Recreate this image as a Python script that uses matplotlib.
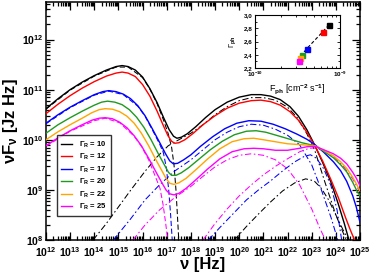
import numpy as np
import matplotlib
matplotlib.use("Agg")
import matplotlib.pyplot as plt
from matplotlib.ticker import LogLocator, NullFormatter, MultipleLocator, FixedLocator
from matplotlib.lines import Line2D

plt.rcParams['font.family'] = ['Liberation Sans', 'DejaVu Sans']
plt.rcParams['font.weight'] = 'bold'
plt.rcParams['mathtext.fontset'] = 'custom'
plt.rcParams['mathtext.rm'] = 'Liberation Sans:bold'
plt.rcParams['mathtext.it'] = 'Liberation Sans:bold:italic'
plt.rcParams['mathtext.bf'] = 'Liberation Sans:bold'
plt.rcParams['mathtext.default'] = 'rm'

# ---------------- data (log10 nu [Hz], log10 nuF_nu) ----------------
gammas = [10, 12, 17, 20, 22, 25]
colors = ['black', '#ff0000', '#0000ff', '#1f9a1f', '#ffa500', '#ff00ff']

x_g10 = [12.0, 12.5, 13.0, 13.5, 14.0, 14.5, 14.9, 15.15, 15.4, 15.7, 16.0, 16.3, 16.6, 16.86, 17.1, 17.28, 17.42,
         17.6, 17.85, 18.2, 18.6, 19.0, 19.5, 20.0, 20.5, 20.9, 21.3, 21.7, 22.1, 22.45, 22.8, 23.14, 23.45,
         23.8, 24.1, 24.35, 24.56]
y_g10 = [10.62, 10.82, 11.0, 11.15, 11.28, 11.39, 11.46, 11.48, 11.46, 11.39, 11.25, 11.02, 10.74, 10.45, 10.2, 10.07, 10.03,
         10.05, 10.12, 10.26, 10.44, 10.6, 10.75, 10.85, 10.9, 10.9, 10.87, 10.8, 10.66, 10.47, 10.2, 9.88, 9.55,
         9.15, 8.72, 8.33, 7.97]

x_g12 = [12.0, 12.5, 13.0, 13.5, 14.0, 14.5, 14.9, 15.15, 15.4, 15.7, 16.0, 16.3, 16.6, 16.86, 17.05, 17.2, 17.33,
         17.5, 17.75, 18.1, 18.5, 19.0, 19.5, 20.0, 20.5, 20.9, 21.3, 21.7, 22.1, 22.45, 22.8, 23.14, 23.45,
         23.8, 24.1, 24.4, 24.6, 24.8]
y_g12 = [10.52, 10.71, 10.88, 11.03, 11.16, 11.27, 11.33, 11.35, 11.33, 11.26, 11.1, 10.87, 10.57, 10.28, 10.08, 9.97, 9.93,
         9.94, 10.0, 10.13, 10.3, 10.48, 10.63, 10.73, 10.78, 10.79, 10.76, 10.69, 10.56, 10.39, 10.15, 9.87, 9.58,
         9.2, 8.85, 8.45, 8.2, 7.97]

x_g17 = [12.0, 12.5, 13.0, 13.5, 14.0, 14.35, 14.6, 14.9, 15.2, 15.5, 15.8, 16.1, 16.4, 16.7, 16.95, 17.12, 17.27,
         17.45, 17.7, 18.0, 18.4, 18.9, 19.4, 19.9, 20.4, 20.9, 21.4, 21.9, 22.4, 22.8, 23.14, 23.5, 23.9,
         24.2, 24.45, 24.7, 24.85, 25.0]
y_g17 = [10.33, 10.5, 10.65, 10.78, 10.9, 10.96, 10.98, 10.96, 10.91, 10.82, 10.68, 10.48, 10.22, 9.95, 9.72, 9.58, 9.52,
         9.53, 9.6, 9.7, 9.87, 10.06, 10.22, 10.33, 10.38, 10.37, 10.31, 10.22, 10.11, 10.01, 9.9, 9.75, 9.56,
         9.38, 9.17, 8.88, 8.65, 8.35]

x_g20 = [12.0, 12.5, 13.0, 13.5, 14.0, 14.3, 14.55, 14.85, 15.15, 15.45, 15.75, 16.05, 16.35, 16.65, 16.9, 17.07, 17.2,
         17.38, 17.6, 17.9, 18.3, 18.8, 19.3, 19.8, 20.3, 20.7, 21.1, 21.6, 22.1, 22.6, 23.14, 23.5, 23.9,
         24.2, 24.45, 24.7, 24.85, 25.0]
y_g20 = [10.13, 10.3, 10.44, 10.57, 10.69, 10.75, 10.77, 10.75, 10.7, 10.6, 10.45, 10.25, 10.0, 9.72, 9.5, 9.35, 9.29,
         9.29, 9.34, 9.44, 9.6, 9.8, 9.97, 10.1, 10.17, 10.18, 10.15, 10.08, 10.01, 9.94, 9.88, 9.77, 9.64,
         9.5, 9.36, 9.15, 9.0, 8.88]

x_g22 = [12.0, 12.5, 13.0, 13.5, 13.9, 14.2, 14.45, 14.75, 15.05, 15.35, 15.65, 15.95, 16.25, 16.55, 16.8, 16.98, 17.13,
         17.3, 17.5, 17.8, 18.2, 18.7, 19.2, 19.7, 20.2, 20.6, 21.0, 21.5, 22.0, 22.6, 23.14, 23.5, 23.9,
         24.2, 24.45, 24.7, 24.85, 25.0]
y_g22 = [10.0, 10.16, 10.3, 10.43, 10.54, 10.6, 10.62, 10.61, 10.56, 10.47, 10.33, 10.13, 9.88, 9.6, 9.38, 9.22, 9.13,
         9.11, 9.14, 9.23, 9.4, 9.62, 9.82, 9.96, 10.02, 10.03, 10.0, 9.96, 9.92, 9.9, 9.88, 9.79, 9.68,
         9.56, 9.43, 9.25, 9.12, 8.98]

x_g25 = [12.0, 12.5, 13.0, 13.5, 13.9, 14.2, 14.45, 14.75, 15.05, 15.35, 15.65, 15.95, 16.25, 16.55, 16.8, 16.98, 17.13,
         17.3, 17.5, 17.8, 18.2, 18.7, 19.2, 19.7, 20.2, 20.6, 21.0, 21.5, 22.0, 22.5, 22.8, 23.14, 23.5, 23.9,
         24.2, 24.45, 24.7, 24.85, 25.0]
y_g25 = [9.88, 10.04, 10.18, 10.3, 10.39, 10.43, 10.44, 10.42, 10.35, 10.24, 10.08, 9.88, 9.63, 9.36, 9.14, 8.99, 8.92,
         8.9, 8.93, 9.03, 9.2, 9.42, 9.62, 9.76, 9.82, 9.83, 9.82, 9.79, 9.79, 9.83, 9.86, 9.87, 9.8, 9.72,
         9.63, 9.52, 9.35, 9.23, 9.08]

# synchrotron components (dashed)
xs_g10 = [12.0, 13.0, 14.0, 14.9, 15.4, 16.0, 16.3, 16.6, 16.86, 17.06, 17.2, 17.3, 17.38, 17.44, 17.5]
ys_g10 = [10.61, 10.99, 11.27, 11.45, 11.45, 11.24, 11.01, 10.72, 10.4, 10.12, 9.85, 9.5, 9.0, 8.5, 7.97]
xs_g17 = [12.0, 13.0, 14.0, 14.6, 15.2, 15.8, 16.1, 16.4, 16.7, 16.86, 16.98, 17.08, 17.16, 17.23]
ys_g17 = [10.32, 10.64, 10.89, 10.97, 10.9, 10.67, 10.47, 10.2, 9.92, 9.74, 9.45, 9.0, 8.5, 7.97]
xs_g25 = [12.0, 13.0, 14.0, 14.45, 15.05, 15.65, 15.95, 16.25, 16.5, 16.72, 16.85, 16.95, 17.05]
ys_g25 = [9.87, 10.17, 10.38, 10.43, 10.34, 10.07, 9.87, 9.6, 9.3, 9.03, 8.7, 8.35, 7.97]

# second-hump components (dash-dot)
xc_g10 = [13.95, 14.5, 15.0, 15.5, 16.1, 16.6, 17.06, 17.5, 18.0, 18.5, 19.0, 19.5, 20.0, 20.5, 21.0, 21.5,
          22.0, 22.4, 22.8, 23.14, 23.55, 24.0, 24.45]
yc_g10 = [8.0, 8.33, 8.66, 8.99, 9.37, 9.66, 9.88, 10.0, 10.13, 10.3, 10.5, 10.66, 10.78, 10.84, 10.84, 10.79,
          10.65, 10.44, 10.12, 9.77, 9.15, 8.5, 7.97]
xc_g17 = [14.79, 15.5, 16.1, 16.7, 17.34, 18.0, 18.5, 19.0, 19.5, 20.0, 20.5, 21.0, 21.5, 22.0, 22.5, 23.0,
          23.4, 23.8, 24.1]
yc_g17 = [8.0, 8.42, 8.8, 9.1, 9.38, 9.6, 9.8, 10.0, 10.15, 10.26, 10.31, 10.29, 10.21, 10.09, 9.9, 9.5,
          9.0, 8.45, 7.97]
xc_g25 = [15.6, 16.1, 16.7, 17.34, 18.0, 18.5, 19.0, 19.5, 20.0, 20.5, 21.0, 21.5, 22.0, 22.5, 23.0, 23.35, 23.6]
yc_g25 = [8.0, 8.3, 8.6, 8.85, 9.07, 9.27, 9.46, 9.6, 9.69, 9.72, 9.69, 9.6, 9.42, 9.1, 8.62, 8.22, 7.97]

# high-energy components (dash-dot)
xe_g10 = [19.8, 20.3, 20.8, 21.3, 21.8, 22.3, 22.75, 23.1, 23.4, 23.7, 24.0, 24.3, 24.55]
ye_g10 = [8.0, 8.27, 8.52, 8.76, 8.98, 9.14, 9.22, 9.18, 9.03, 8.8, 8.5, 8.2, 7.97]
xe_g17 = [18.72, 19.2, 19.7, 20.3, 20.8, 21.3, 21.8, 22.3, 22.7, 22.95, 23.2, 23.5, 23.8, 24.05, 24.25]
ye_g17 = [8.0, 8.25, 8.5, 8.8, 9.0, 9.18, 9.38, 9.56, 9.67, 9.7, 9.63, 9.42, 9.08, 8.6, 7.97]
xe_g25 = [18.5, 19.0, 19.5, 20.0, 20.5, 21.0, 21.5, 22.0, 22.5, 22.9, 23.2, 23.5, 23.9, 24.3, 24.7, 25.0]
ye_g25 = [8.0, 8.33, 8.62, 8.88, 9.1, 9.3, 9.47, 9.62, 9.76, 9.83, 9.84, 9.78, 9.66, 9.48, 9.22, 8.95]

# inset data
F_ph = [7.4e-10, 6.3e-10, 4.05e-10, 3.55e-10, 3.39e-10, 3.3e-10]
Gamma_ph = [2.85, 2.75, 2.49, 2.40, 2.35, 2.30]
inset_yticks = [2.2, 2.4, 2.6, 2.8, 3.0]
inset_yticklabels = ['2,2', '2,4', '2,6', '2,8', '3,0']

# ---------------- figure ----------------
fig = plt.figure(figsize=(3.71, 2.76), dpi=100)
ax = fig.add_axes([46/371, 36/276, 314/371, 238/276])

solids = [(x_g10, y_g10), (x_g12, y_g12), (x_g17, y_g17), (x_g20, y_g20), (x_g22, y_g22), (x_g25, y_g25)]
syncs = {0: (xs_g10, ys_g10), 2: (xs_g17, ys_g17), 5: (xs_g25, ys_g25)}
comps = {0: (xc_g10, yc_g10), 2: (xc_g17, yc_g17), 5: (xc_g25, yc_g25)}
ecs = {0: (xe_g10, ye_g10), 2: (xe_g17, ye_g17), 5: (xe_g25, ye_g25)}

dash = (0, (5, 2.5))
dashdot = (0, (6, 2.5, 1.5, 2.5))
for i, (xs, ys) in syncs.items():
    ax.plot(10**np.array(xs), 10**np.array(ys), color=colors[i], lw=0.75, ls=dash, zorder=2)
for i, (xs, ys) in comps.items():
    ax.plot(10**np.array(xs), 10**np.array(ys), color=colors[i], lw=0.75, ls=dashdot, zorder=2)
for i, (xs, ys) in ecs.items():
    ax.plot(10**np.array(xs), 10**np.array(ys), color=colors[i], lw=0.75, ls=dashdot, zorder=2)
for i, (xs, ys) in enumerate(solids):
    ax.plot(10**np.array(xs), 10**np.array(ys), color=colors[i], lw=1.0, zorder=3)

ax.set_xscale('log')
ax.set_yscale('log')
ax.set_xlim(1e12, 1e25)
ax.set_ylim(1e8, 5.6e12)
ax.xaxis.set_major_locator(FixedLocator(10.0 ** np.arange(12, 26)))
ax.xaxis.set_minor_locator(LogLocator(base=10, subs=np.arange(2, 10), numticks=100))
ax.xaxis.set_minor_formatter(NullFormatter())
ax.yaxis.set_major_locator(FixedLocator(10.0 ** np.arange(8, 13)))
ax.yaxis.set_minor_locator(LogLocator(base=10, subs=np.arange(2, 10), numticks=100))
ax.yaxis.set_minor_formatter(NullFormatter())
ax.tick_params(which='both', direction='in', top=True, right=True, width=0.9)
ax.tick_params(which='major', length=5.5, labelsize=7.5)
ax.tick_params(axis='x', which='major', pad=3.5)
ax.tick_params(axis='y', which='major', pad=2)
ax.tick_params(which='minor', length=3)
for s in ax.spines.values():
    s.set_linewidth(1.1)

ax.set_xlabel('ν [Hz]', fontsize=12, fontweight='bold', labelpad=-1)
ax.set_ylabel('νF$_{ν}$ [Jz Hz]', fontsize=12, fontweight='bold', labelpad=1)

handles = [Line2D([], [], color=c, lw=1.0) for c in colors]
labels = ['Γ$_{\\mathrm{R}}$ = %d' % g for g in gammas]
leg = ax.legend(handles, labels, loc='lower left', bbox_to_anchor=(0.035, 0.10), fontsize=5.5,
                frameon=True, fancybox=False, edgecolor='black', handlelength=1.4, handletextpad=0.9,
                labelspacing=0.3, borderpad=0.55, borderaxespad=0)
leg.get_frame().set_linewidth(1.0)

# inset
axi = fig.add_axes([255/371, (276-68)/276, 85/371, 53/276])
axi.plot(F_ph, Gamma_ph, color='black', lw=0.8, ls=(0, (3, 2)), zorder=2)
for f, g, c in zip(F_ph, Gamma_ph, colors):
    axi.plot([f], [g], marker='s', ms=3.6, color=c, mec=c, ls='none', zorder=3)
axi.set_xscale('log')
axi.set_xlim(1e-10, 1e-9)
axi.set_ylim(2.2, 3.0)
axi.set_yticks(inset_yticks)
axi.set_yticklabels(inset_yticklabels)
axi.yaxis.set_minor_locator(MultipleLocator(0.1))
axi.xaxis.set_major_locator(FixedLocator([1e-10, 1e-9]))
axi.xaxis.set_minor_locator(LogLocator(base=10, subs=np.arange(2, 10), numticks=10))
axi.xaxis.set_minor_formatter(NullFormatter())
axi.tick_params(which='both', direction='in', top=True, right=True, width=0.6)
axi.tick_params(which='major', length=2.5, labelsize=4.5, pad=1.5)
axi.tick_params(which='minor', length=1.5)
for s in axi.spines.values():
    s.set_linewidth(0.8)
axi.set_xlabel('F$_{\\mathrm{ph}}$ [cm$^{-2}$ s$^{-1}$]', fontsize=6.5, labelpad=2)
axi.set_ylabel('Γ$_{\\mathrm{ph}}$', fontsize=5.5, labelpad=4)

fig.savefig('out.png', dpi=100)
